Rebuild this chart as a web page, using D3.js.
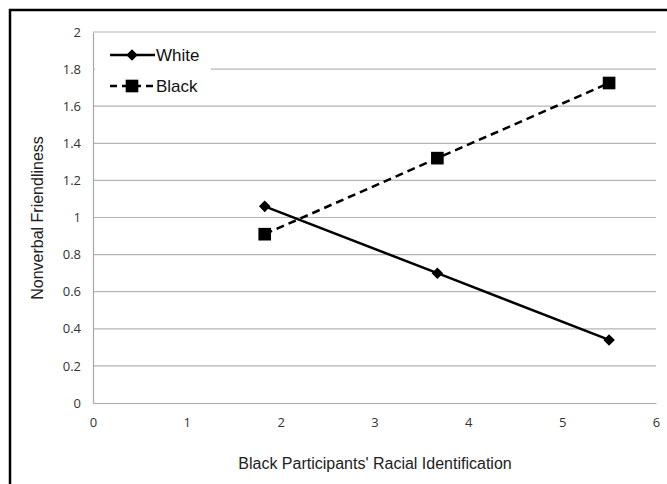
<!DOCTYPE html>
<html><head><meta charset="utf-8">
<script src="https://cdn.jsdelivr.net/npm/d3@7"></script>
<style>body{margin:0;background:#fff}</style>
</head><body>
<svg id="c" width="667" height="484"></svg>
<script>
const xValues = [1.83, 3.67, 5.5];
const whiteValues = [1.06, 0.70, 0.34];
const blackValues = [0.91, 1.32, 1.725];
const seriesNames = ["White", "Black"];
const xTicks = [0, 1, 2, 3, 4, 5, 6];
const yTicks = [0, 0.2, 0.4, 0.6, 0.8, 1, 1.2, 1.4, 1.6, 1.8, 2];
const xTitle = "Black Participants' Racial Identification";
const yTitle = "Nonverbal Friendliness";

const svg = d3.select("#c");
// outer frame
svg.append("path").attr("d","M10,484 V10 H667").attr("fill","none").attr("stroke","#000").attr("stroke-width",2.5);

const x = d3.scaleLinear().domain([0,6]).range([93,656]);
const y = d3.scaleLinear().domain([0,2]).range([403,32]);
const tickFont = "'Open Sans', sans-serif";

// gridlines
svg.append("g").selectAll("line").data(yTicks.filter(d=>d>0)).join("line")
  .attr("x1",x(0)).attr("x2",x(6)).attr("y1",d=>y(d)).attr("y2",d=>y(d))
  .attr("stroke","#b4b4b4").attr("stroke-width",1.2);

// axes
const yAxis = svg.append("g").attr("transform",`translate(${x(0)},0)`)
  .call(d3.axisLeft(y).tickValues(yTicks).tickSize(0).tickPadding(12).tickFormat(d=>d3.format("~g")(d)));
const xAxis = svg.append("g").attr("transform",`translate(0,${y(0)})`)
  .call(d3.axisBottom(x).tickValues(xTicks).tickSize(0).tickPadding(15).tickFormat(d3.format("d")));
[yAxis,xAxis].forEach(a=>{
  a.attr("font-size",13).attr("font-family",tickFont);
  a.select(".domain").attr("stroke","#a8a8a8").attr("stroke-width",1.2);
  a.selectAll("text").attr("fill","#333");
});

// lines
const line = d3.line().x((d,i)=>x(xValues[i])).y(d=>y(d));
svg.append("path").datum(whiteValues).attr("d",line).attr("fill","none").attr("stroke","#000").attr("stroke-width",2.5);
svg.append("path").datum(blackValues).attr("d",line).attr("fill","none").attr("stroke","#000").attr("stroke-width",2.5).attr("stroke-dasharray","8,5");

const diamond = d3.symbol().type(d3.symbolDiamond2).size(85);
const square = d3.symbol().type(d3.symbolSquare).size(160);
svg.append("g").selectAll("path").data(whiteValues).join("path")
  .attr("d",diamond).attr("transform",(d,i)=>`translate(${x(xValues[i])},${y(d)})`).attr("fill","#000");
svg.append("g").selectAll("path").data(blackValues).join("path")
  .attr("d",square).attr("transform",(d,i)=>`translate(${x(xValues[i])},${y(d)})`).attr("fill","#000");

// legend
const lg = svg.append("g");
lg.append("rect").attr("x",x(0)+2).attr("y",40).attr("width",116).attr("height",60).attr("fill","#fff");
const ly = [55, 86];
lg.append("line").attr("x1",110).attr("x2",155).attr("y1",ly[0]).attr("y2",ly[0]).attr("stroke","#000").attr("stroke-width",2.5);
lg.append("path").attr("d",diamond).attr("transform",`translate(132,${ly[0]})`);
lg.append("line").attr("x1",110).attr("x2",155).attr("y1",ly[1]).attr("y2",ly[1]).attr("stroke","#000").attr("stroke-width",2.5).attr("stroke-dasharray","7,5");
lg.append("path").attr("d",square).attr("transform",`translate(132,${ly[1]})`);
lg.selectAll("text").data(seriesNames).join("text")
  .attr("x",156).attr("y",(d,i)=>ly[i]).attr("dy","0.36em")
  .attr("font-family","'Liberation Sans', Arial, sans-serif").attr("font-size",17).attr("fill","#111").text(d=>d);

// titles
svg.append("text").attr("x",375).attr("y",469).attr("text-anchor","middle")
  .attr("font-family","'Liberation Sans', Arial, sans-serif").attr("font-size",16).attr("fill","#222").text(xTitle);
svg.append("text").attr("transform","translate(43,218) rotate(-90)").attr("text-anchor","middle")
  .attr("font-family","'Liberation Sans', Arial, sans-serif").attr("font-size",16).attr("fill","#222").text(yTitle);
</script>
</body></html>
